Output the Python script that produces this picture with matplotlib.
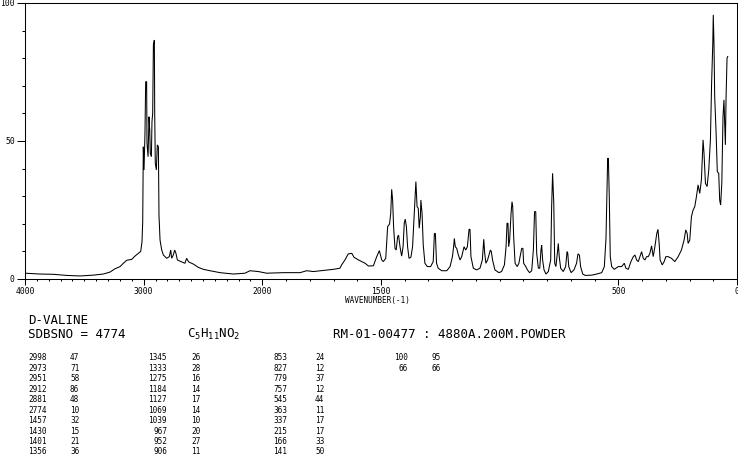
import numpy as np
import matplotlib
matplotlib.use("Agg")
import matplotlib.pyplot as plt
from matplotlib.ticker import FixedLocator, FixedFormatter, NullFormatter

# ---------------- spectrum ----------------
wavenumber = [4000, 3874, 3761, 3649, 3537, 3424, 3340, 3284, 3242, 3199,
              3171, 3143, 3101, 3073, 3045, 3025, 3014, 3008, 3003, 2997,
              2989, 2983, 2975, 2972, 2963, 2955, 2949, 2944, 2935, 2930,
              2924, 2918, 2910, 2907, 2902, 2893, 2885, 2876, 2871, 2862,
              2848, 2834, 2806, 2784, 2772, 2764, 2750, 2739, 2728, 2716,
              2680, 2652, 2638, 2621, 2581, 2539, 2497, 2441, 2357, 2244,
              2146, 2104, 2034, 1982, 1911, 1841, 1813, 1785, 1701, 1673,
              1666, 1652, 1638, 1623, 1614, 1595, 1581, 1567, 1553, 1532,
              1518, 1507, 1497, 1490, 1480, 1472, 1464, 1459, 1455, 1451,
              1447, 1441, 1436, 1430, 1426, 1420, 1413, 1407, 1402, 1398,
              1393, 1388, 1382, 1374, 1367, 1360, 1353, 1348, 1343, 1339,
              1334, 1332, 1327, 1322, 1315, 1305, 1291, 1280, 1275, 1271,
              1266, 1259, 1244, 1223, 1209, 1199, 1194, 1191, 1187, 1181,
              1174, 1167, 1160, 1150, 1143, 1136, 1129, 1125, 1121, 1111,
              1097, 1083, 1073, 1067, 1063, 1058, 1051, 1039, 1035, 1030,
              1020, 1003, 992, 980, 973, 969, 965, 962, 958, 952,
              948, 945, 941, 935, 926, 919, 914, 907, 902, 899,
              890, 883, 874, 865, 858, 853, 848, 844, 837, 831,
              826, 823, 819, 813, 805, 795, 785, 781, 777, 772,
              768, 763, 757, 753, 749, 743, 732, 722, 716, 713,
              709, 699, 687, 676, 670, 664, 659, 650, 640, 612,
              591, 570, 559, 552, 548, 545, 542, 538, 534, 528,
              517, 500, 486, 475, 468, 458, 447, 437, 430, 423,
              416, 409, 402, 395, 388, 381, 374, 367, 360, 353,
              346, 338, 333, 328, 324, 315, 307, 300, 290, 276,
              262, 248, 234, 223, 216, 210, 206, 199, 192, 185,
              178, 171, 164, 157, 150, 143, 139, 133, 126, 119,
              112, 107, 102, 100, 97, 94, 88, 83, 77, 73,
              69, 64, 59, 55, 49, 46, 42, 39]
intensity = [2.1, 1.8, 1.7, 1.3, 1.1, 1.4, 1.8, 2.5, 3.7, 4.5,
             5.7, 6.8, 7.1, 8.3, 9.3, 10.0, 13.5, 20.8, 47.9, 39.5,
             52.8, 71.5, 71.5, 49.2, 44.3, 58.8, 54.0, 45.5, 44.3, 57.0,
             60.0, 84.8, 86.6, 60.0, 41.9, 39.5, 48.6, 47.9, 23.2, 14.1,
             10.5, 8.7, 7.5, 8.1, 10.5, 7.5, 8.7, 10.5, 9.3, 6.9,
             6.2, 5.7, 7.5, 6.2, 5.4, 4.2, 3.5, 3.0, 2.3, 1.8,
             2.1, 3.0, 2.7, 2.1, 2.3, 2.3, 3.0, 2.7, 3.5, 3.9,
             5.1, 6.9, 9.1, 9.3, 7.9, 6.9, 6.3, 5.7, 4.7, 4.8,
             8.1, 10.3, 6.9, 6.3, 7.5, 19.0, 19.9, 23.8, 32.5, 28.6,
             19.0, 11.1, 10.5, 15.3, 15.9, 11.7, 8.3, 11.7, 20.2, 21.7,
             19.0, 11.7, 7.5, 7.9, 11.7, 23.8, 35.3, 26.2, 25.6, 18.4,
             22.6, 28.6, 23.8, 12.3, 5.7, 4.5, 4.5, 6.3, 16.5, 16.5,
             5.7, 3.9, 3.0, 3.0, 4.5, 8.1, 11.7, 14.7, 11.7, 11.1,
             8.7, 6.9, 8.1, 11.7, 10.5, 11.7, 18.0, 18.0, 8.1, 3.9,
             3.3, 3.9, 6.9, 14.4, 9.3, 5.7, 6.9, 10.5, 9.9, 6.9,
             3.3, 2.3, 2.7, 5.1, 11.7, 20.2, 20.2, 11.7, 14.1, 23.8,
             28.0, 26.2, 15.3, 5.7, 4.5, 5.7, 8.1, 11.1, 11.1, 5.7,
             4.5, 3.3, 2.3, 3.0, 10.5, 24.4, 24.4, 9.3, 3.9, 3.9,
             10.5, 12.3, 6.9, 3.3, 1.8, 2.7, 6.9, 26.2, 38.3, 27.4,
             5.7, 4.5, 9.3, 12.9, 8.1, 3.9, 2.7, 4.5, 9.9, 9.3,
             4.5, 2.3, 3.3, 5.7, 9.1, 8.7, 4.5, 1.8, 1.3, 1.4,
             1.8, 2.3, 4.5, 14.7, 31.6, 43.7, 43.7, 29.2, 8.1, 4.5,
             3.5, 4.5, 4.5, 5.7, 3.9, 3.5, 6.3, 8.1, 8.7, 6.9,
             6.3, 8.1, 9.9, 7.5, 6.9, 8.1, 8.1, 9.3, 12.0, 8.1,
             11.7, 16.5, 18.0, 12.9, 6.9, 5.1, 6.3, 8.1, 8.1, 7.5,
             6.3, 8.1, 10.5, 14.1, 17.8, 16.5, 12.9, 14.1, 22.6, 25.0,
             26.2, 29.8, 34.1, 31.0, 35.9, 50.4, 45.5, 34.7, 33.5, 39.5,
             50.4, 70.9, 85.4, 95.7, 85.4, 66.1, 52.8, 38.9, 38.3, 28.6,
             26.8, 34.7, 58.8, 64.9, 48.6, 66.1, 80.0, 80.6]

# ---------------- axis ticks ----------------
x_major = [4000, 3000, 2000, 1500, 500, 0]
x_major_labels = ["4000", "3000", "2000", "1500", "500", "0"]
x_minor = list(range(0, 4001, 100))
y_major = [0, 50, 100]
y_major_labels = ["0", "50", "100"]
y_minor = list(range(0, 101, 10))

# ---------------- header / peak table text ----------------
compound = "D-VALINE"
sdbs_line = "SDBSNO = 4774"
formula = r"$\mathregular{C_5H_{11}NO_2}$"
sample_line = "RM-01-00477 : 4880A.200M.POWDER"
peak_wn = [
    ["2998", "2973", "2951", "2912", "2881", "2774", "1457", "1430", "1401", "1356"],
    ["1345", "1333", "1275", "1184", "1127", "1069", "1039", "967", "952", "906"],
    ["853", "827", "779", "757", "545", "363", "337", "215", "166", "141"],
    ["100", "66"],
]
peak_int = [
    ["47", "71", "58", "86", "48", "10", "32", "15", "21", "36"],
    ["26", "28", "16", "14", "17", "14", "10", "20", "27", "11"],
    ["24", "12", "37", "12", "44", "11", "17", "17", "33", "50"],
    ["95", "66"],
]

W, H = 738, 457
fig = plt.figure(figsize=(W / 100, H / 100), dpi=100)
ax = fig.add_axes([25 / W, 1 - 279 / H, 712 / W, 276 / H])


def fwd(w):
    w = np.asarray(w, dtype=float)
    return np.where(w <= 2000, w, 2000 + (w - 2000) / 2.0)


def inv(u):
    u = np.asarray(u, dtype=float)
    return np.where(u <= 2000, u, 2000 + (u - 2000) * 2.0)


ax.set_xscale("function", functions=(fwd, inv))
ax.plot(wavenumber, intensity, color="black", lw=0.75, solid_joinstyle="miter")
ax.set_xlim(4000, 0)
ax.set_ylim(0, 100)

mono = "DejaVu Sans Mono"
ax.xaxis.set_major_locator(FixedLocator(x_major))
ax.xaxis.set_major_formatter(FixedFormatter(x_major_labels))
ax.xaxis.set_minor_locator(FixedLocator(x_minor))
ax.xaxis.set_minor_formatter(NullFormatter())
ax.yaxis.set_major_locator(FixedLocator(y_major))
ax.yaxis.set_major_formatter(FixedFormatter(y_major_labels))
ax.yaxis.set_minor_locator(FixedLocator(y_minor))
ax.yaxis.set_minor_formatter(NullFormatter())

ax.tick_params(axis="x", which="major", direction="out", length=4.3, width=0.75,
               pad=1.5, labelsize=5.8, colors="black")
ax.tick_params(axis="x", which="minor", direction="out", length=1.7, width=0.75)
ax.tick_params(axis="y", which="major", direction="out", length=5.8, width=0.75,
               pad=1.5, labelsize=5.8, colors="black")
ax.tick_params(axis="y", which="minor", direction="out", length=2.2, width=0.75)
for lab in ax.get_xticklabels() + ax.get_yticklabels():
    lab.set_family(mono)
for sp in ax.spines.values():
    sp.set_linewidth(0.75)
    sp.set_color("black")

# axis caption
fig.text(377 / W, 1 - 300 / H, "WAVENUMBER(-1)", family=mono, fontsize=5.6,
         ha="center", va="center")

# header lines
plt.rcParams["mathtext.fontset"] = "custom"
plt.rcParams["mathtext.rm"] = mono
fig.text(28 / W, 1 - 321 / H, compound, family=mono, fontsize=9, ha="left", va="center")
fig.text(28 / W, 1 - 335 / H, sdbs_line, family=mono, fontsize=9, ha="left", va="center")
fig.text(187 / W, 1 - 334 / H, formula, family=mono, fontsize=9, ha="left", va="center")
fig.text(333 / W, 1 - 335 / H, sample_line, family=mono, fontsize=9, ha="left", va="center")

# peak table
wn_right = [47, 167, 287, 408]
int_left = [70, 191, 315, 432]
for c in range(4):
    for r, (wn, it) in enumerate(zip(peak_wn[c], peak_int[c])):
        yy = 1 - (358 + r * 10.44) / H
        fig.text(wn_right[c] / W, yy, wn, family=mono, fontsize=5.6, ha="right", va="center")
        fig.text(int_left[c] / W, yy, it, family=mono, fontsize=5.6, ha="left", va="center")

fig.savefig("out.png", dpi=100)
